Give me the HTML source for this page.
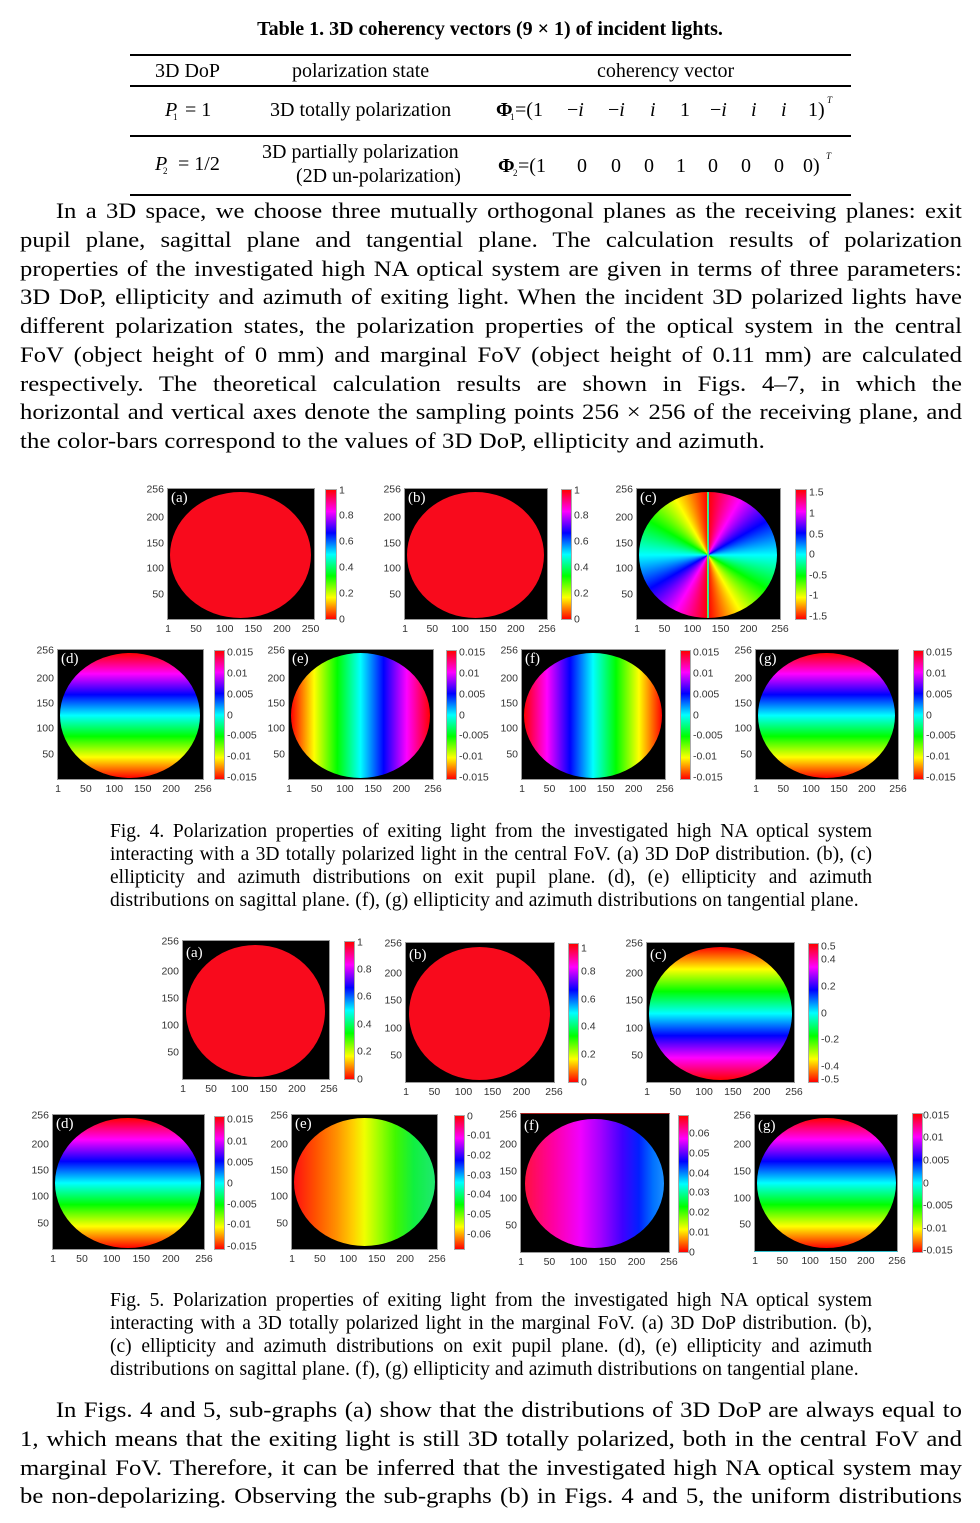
<!DOCTYPE html>
<html><head><meta charset="utf-8">
<style>
*{margin:0;padding:0;box-sizing:border-box}
html,body{width:980px;height:1523px;overflow:hidden;background:#fff}
body{position:relative;font-family:"Liberation Serif","Times New Roman",serif;color:#000}
.a{position:absolute;white-space:nowrap;line-height:1;font-size:20px}
.s{position:absolute;white-space:nowrap;line-height:1;font-size:9px}
.rule{position:absolute;left:130px;width:721px;height:2px;background:#000}
.pg{position:absolute;left:20px;width:841px;transform:scaleX(1.12);transform-origin:0 0;font-size:22px;line-height:28.75px}
.pg div{height:28.75px;text-align:justify;text-align-last:justify}
.pg div.l{text-align-last:left;letter-spacing:0.15px}
.pg div.i{text-indent:32px}
.cp{position:absolute;left:110px;width:762px;font-size:19.5px;line-height:23px}
.cp div{height:23px;text-align:justify;text-align-last:justify}
.cp div.l{text-align-last:left;letter-spacing:0.16px}
.pl{position:absolute;background:#000;border:1px solid #9a9a9a}
.el{position:absolute;left:2px;top:3px;right:3px;bottom:1px;border-radius:50%;overflow:hidden}
.lb{position:absolute;left:3px;top:2px;color:#fff;font:15px "Liberation Serif",serif;line-height:1;white-space:nowrap}
.yl,.xl,.cl{position:absolute;font:10.5px "Liberation Sans",Arial,sans-serif;color:#333;line-height:1;white-space:nowrap}
.yl{right:calc(100% + 4px);transform:translateY(50%)}
.xl{top:calc(100% + 5px);transform:translateX(-50%)}
.cl{left:calc(100% + 3px);transform:translateY(50%)}
.cb{position:absolute;border:1px solid #aaa;background:linear-gradient(to top,#f00 0%,#ff0 16.67%,#0f0 33.33%,#0ff 50%,#00f 66.67%,#f0f 83.33%,#f00 100%)}
.red{background:#f80a1c}
.up{background:linear-gradient(to top,#f00 0%,#ff0 16.67%,#0f0 33.33%,#0ff 50%,#00f 66.67%,#f0f 83.33%,#f00 100%)}
.dn{background:linear-gradient(to bottom,#f00 0%,#ff0 16.67%,#0f0 33.33%,#0ff 50%,#00f 66.67%,#f0f 83.33%,#f00 100%)}
.rt{background:linear-gradient(to right,#f00 0%,#ff0 16.67%,#0f0 33.33%,#0ff 50%,#00f 66.67%,#f0f 83.33%,#f00 100%)}
.lf{background:linear-gradient(to left,#f00 0%,#ff0 16.67%,#0f0 33.33%,#0ff 50%,#00f 66.67%,#f0f 83.33%,#f00 100%)}
.cn{background:conic-gradient(from 0deg,#f00 0deg,#f0f 30deg,#00f 60deg,#0ff 90deg,#0f0 120deg,#ff0 150deg,#f00 180deg,#f0f 210deg,#00f 240deg,#0ff 270deg,#0f0 300deg,#ff0 330deg,#f00 360deg)}
</style></head><body>

<!-- TABLE -->
<div class="a" style="left:0;width:980px;text-align:center;top:19px;font-weight:bold">Table 1. 3D coherency vectors (9 × 1) of incident lights.</div>
<div class="rule" style="top:54px"></div>
<div class="a" style="left:155px;top:61px">3D DoP</div>
<div class="a" style="left:292px;top:61px">polarization state</div>
<div class="a" style="left:597px;top:61px">coherency vector</div>
<div class="rule" style="top:85px"></div>

<div class="a" style="left:165px;top:100px"><i>P</i></div>
<div class="s" style="left:173px;top:113px">1</div>
<div class="a" style="left:185px;top:100px">= 1</div>
<div class="a" style="left:270px;top:100px">3D totally polarization</div>
<div class="a" style="left:496px;top:100px;font-weight:bold">Φ</div>
<div class="s" style="left:510px;top:113px">1</div>
<div class="a" style="left:515px;top:100px">=(1</div>
<div class="a" style="left:567px;top:100px">−<i>i</i></div>
<div class="a" style="left:608px;top:100px">−<i>i</i></div>
<div class="a" style="left:650px;top:100px"><i>i</i></div>
<div class="a" style="left:680px;top:100px">1</div>
<div class="a" style="left:710px;top:100px">−<i>i</i></div>
<div class="a" style="left:751px;top:100px"><i>i</i></div>
<div class="a" style="left:781px;top:100px"><i>i</i></div>
<div class="a" style="left:808px;top:100px">1)</div>
<div class="s" style="left:827px;top:96px"><i>T</i></div>
<div class="rule" style="top:135px"></div>

<div class="a" style="left:155px;top:154px"><i>P</i></div>
<div class="s" style="left:163px;top:167px">2</div>
<div class="a" style="left:178px;top:154px">= 1/2</div>
<div class="a" style="left:262px;top:142px">3D partially polarization</div>
<div class="a" style="left:296px;top:166px">(2D un-polarization)</div>
<div class="a" style="left:498px;top:156px;font-weight:bold">Φ</div>
<div class="s" style="left:513px;top:169px">2</div>
<div class="a" style="left:518px;top:156px">=(1</div>
<div class="a" style="left:577px;top:156px">0</div>
<div class="a" style="left:611px;top:156px">0</div>
<div class="a" style="left:644px;top:156px">0</div>
<div class="a" style="left:676px;top:156px">1</div>
<div class="a" style="left:708px;top:156px">0</div>
<div class="a" style="left:741px;top:156px">0</div>
<div class="a" style="left:774px;top:156px">0</div>
<div class="a" style="left:803px;top:156px">0)</div>
<div class="s" style="left:826px;top:152px"><i>T</i></div>
<div class="rule" style="top:194px"></div>

<!-- PARAGRAPH 1 -->
<div class="pg" style="top:197px">
<div class="i">In a 3D space, we choose three mutually orthogonal planes as the receiving planes: exit</div>
<div>pupil plane, sagittal plane and tangential plane. The calculation results of polarization</div>
<div>properties of the investigated high NA optical system are given in terms of three parameters:</div>
<div>3D DoP, ellipticity and azimuth of exiting light. When the incident 3D polarized lights have</div>
<div>different polarization states, the polarization properties of the optical system in the central</div>
<div>FoV (object height of 0 mm) and marginal FoV (object height of 0.11 mm) are calculated</div>
<div>respectively. The theoretical calculation results are shown in Figs. 4–7, in which the</div>
<div>horizontal and vertical axes denote the sampling points 256 × 256 of the receiving plane, and</div>
<div class="l">the color-bars correspond to the values of 3D DoP, ellipticity and azimuth.</div>
</div>

<!-- FIG 4 -->
<div class="pl" style="left:167px;top:488px;width:148px;height:132px">
<div class="el red"></div><div class="lb">(a)</div>
<div class="yl" style="bottom:100%">256</div><div class="yl" style="bottom:78.04%">200</div><div class="yl" style="bottom:58.43%">150</div><div class="yl" style="bottom:38.82%">100</div><div class="yl" style="bottom:19.22%">50</div>
<div class="xl" style="left:0%">1</div><div class="xl" style="left:19.22%">50</div><div class="xl" style="left:38.82%">100</div><div class="xl" style="left:58.43%">150</div><div class="xl" style="left:78.04%">200</div><div class="xl" style="left:97.65%">250</div>
</div>
<div class="cb" style="left:325px;top:489px;width:12px;height:131px">
<div class="cl" style="bottom:100%">1</div><div class="cl" style="bottom:80%">0.8</div><div class="cl" style="bottom:60%">0.6</div><div class="cl" style="bottom:40%">0.4</div><div class="cl" style="bottom:20%">0.2</div><div class="cl" style="bottom:0%">0</div>
</div>

<div class="pl" style="left:404px;top:488px;width:144px;height:132px">
<div class="el red"></div><div class="lb">(b)</div>
<div class="yl" style="bottom:100%">256</div><div class="yl" style="bottom:78.04%">200</div><div class="yl" style="bottom:58.43%">150</div><div class="yl" style="bottom:38.82%">100</div><div class="yl" style="bottom:19.22%">50</div>
<div class="xl" style="left:0%">1</div><div class="xl" style="left:19.22%">50</div><div class="xl" style="left:38.82%">100</div><div class="xl" style="left:58.43%">150</div><div class="xl" style="left:78.04%">200</div><div class="xl" style="left:100%">256</div>
</div>
<div class="cb" style="left:561px;top:489px;width:11px;height:131px">
<div class="cl" style="bottom:100%">1</div><div class="cl" style="bottom:80%">0.8</div><div class="cl" style="bottom:60%">0.6</div><div class="cl" style="bottom:40%">0.4</div><div class="cl" style="bottom:20%">0.2</div><div class="cl" style="bottom:0%">0</div>
</div>

<div class="pl" style="left:636px;top:488px;width:145px;height:132px">
<div class="el cn"><div style="position:absolute;left:calc(50% - 1px);top:0;width:2px;height:100%;background:linear-gradient(to right,#8f0,#0cf)"></div></div><div class="lb">(c)</div>
<div class="yl" style="bottom:100%">256</div><div class="yl" style="bottom:78.04%">200</div><div class="yl" style="bottom:58.43%">150</div><div class="yl" style="bottom:38.82%">100</div><div class="yl" style="bottom:19.22%">50</div>
<div class="xl" style="left:0%">1</div><div class="xl" style="left:19.22%">50</div><div class="xl" style="left:38.82%">100</div><div class="xl" style="left:58.43%">150</div><div class="xl" style="left:78.04%">200</div><div class="xl" style="left:100%">256</div>
</div>
<div class="cb" style="left:795px;top:489px;width:12px;height:131px">
<div class="cl" style="bottom:97.7%">1.5</div><div class="cl" style="bottom:81.8%">1</div><div class="cl" style="bottom:65.9%">0.5</div><div class="cl" style="bottom:50%">0</div><div class="cl" style="bottom:34.1%">-0.5</div><div class="cl" style="bottom:18.2%">-1</div><div class="cl" style="bottom:2.3%">-1.5</div>
</div>

<div class="pl" style="left:57px;top:649px;width:147px;height:131px">
<div class="el up"></div><div class="lb">(d)</div>
<div class="yl" style="bottom:100%">256</div><div class="yl" style="bottom:78.04%">200</div><div class="yl" style="bottom:58.43%">150</div><div class="yl" style="bottom:38.82%">100</div><div class="yl" style="bottom:19.22%">50</div>
<div class="xl" style="left:0%">1</div><div class="xl" style="left:19.22%">50</div><div class="xl" style="left:38.82%">100</div><div class="xl" style="left:58.43%">150</div><div class="xl" style="left:78.04%">200</div><div class="xl" style="left:100%">256</div>
</div>
<div class="cb" style="left:214px;top:650px;width:11px;height:130px">
<div class="cl" style="bottom:99%">0.015</div><div class="cl" style="bottom:82.7%">0.01</div><div class="cl" style="bottom:66.3%">0.005</div><div class="cl" style="bottom:50%">0</div><div class="cl" style="bottom:33.7%">-0.005</div><div class="cl" style="bottom:17.3%">-0.01</div><div class="cl" style="bottom:1%">-0.015</div>
</div>

<div class="pl" style="left:288px;top:649px;width:146px;height:131px">
<div class="el rt"></div><div class="lb">(e)</div>
<div class="yl" style="bottom:100%">256</div><div class="yl" style="bottom:78.04%">200</div><div class="yl" style="bottom:58.43%">150</div><div class="yl" style="bottom:38.82%">100</div><div class="yl" style="bottom:19.22%">50</div>
<div class="xl" style="left:0%">1</div><div class="xl" style="left:19.22%">50</div><div class="xl" style="left:38.82%">100</div><div class="xl" style="left:58.43%">150</div><div class="xl" style="left:78.04%">200</div><div class="xl" style="left:100%">256</div>
</div>
<div class="cb" style="left:446px;top:650px;width:11px;height:130px">
<div class="cl" style="bottom:99%">0.015</div><div class="cl" style="bottom:82.7%">0.01</div><div class="cl" style="bottom:66.3%">0.005</div><div class="cl" style="bottom:50%">0</div><div class="cl" style="bottom:33.7%">-0.005</div><div class="cl" style="bottom:17.3%">-0.01</div><div class="cl" style="bottom:1%">-0.015</div>
</div>

<div class="pl" style="left:521px;top:649px;width:145px;height:131px">
<div class="el lf"></div><div class="lb">(f)</div>
<div class="yl" style="bottom:100%">256</div><div class="yl" style="bottom:78.04%">200</div><div class="yl" style="bottom:58.43%">150</div><div class="yl" style="bottom:38.82%">100</div><div class="yl" style="bottom:19.22%">50</div>
<div class="xl" style="left:0%">1</div><div class="xl" style="left:19.22%">50</div><div class="xl" style="left:38.82%">100</div><div class="xl" style="left:58.43%">150</div><div class="xl" style="left:78.04%">200</div><div class="xl" style="left:100%">256</div>
</div>
<div class="cb" style="left:680px;top:650px;width:11px;height:130px">
<div class="cl" style="bottom:99%">0.015</div><div class="cl" style="bottom:82.7%">0.01</div><div class="cl" style="bottom:66.3%">0.005</div><div class="cl" style="bottom:50%">0</div><div class="cl" style="bottom:33.7%">-0.005</div><div class="cl" style="bottom:17.3%">-0.01</div><div class="cl" style="bottom:1%">-0.015</div>
</div>

<div class="pl" style="left:755px;top:649px;width:144px;height:131px">
<div class="el up"></div><div class="lb">(g)</div>
<div class="yl" style="bottom:100%">256</div><div class="yl" style="bottom:78.04%">200</div><div class="yl" style="bottom:58.43%">150</div><div class="yl" style="bottom:38.82%">100</div><div class="yl" style="bottom:19.22%">50</div>
<div class="xl" style="left:0%">1</div><div class="xl" style="left:19.22%">50</div><div class="xl" style="left:38.82%">100</div><div class="xl" style="left:58.43%">150</div><div class="xl" style="left:78.04%">200</div><div class="xl" style="left:100%">256</div>
</div>
<div class="cb" style="left:913px;top:650px;width:11px;height:130px">
<div class="cl" style="bottom:99%">0.015</div><div class="cl" style="bottom:82.7%">0.01</div><div class="cl" style="bottom:66.3%">0.005</div><div class="cl" style="bottom:50%">0</div><div class="cl" style="bottom:33.7%">-0.005</div><div class="cl" style="bottom:17.3%">-0.01</div><div class="cl" style="bottom:1%">-0.015</div>
</div>

<div class="cp" style="top:820px">
<div>Fig. 4. Polarization properties of exiting light from the investigated high NA optical system</div>
<div>interacting with a 3D totally polarized light in the central FoV. (a) 3D DoP distribution. (b), (c)</div>
<div>ellipticity and azimuth distributions on exit pupil plane. (d), (e) ellipticity and azimuth</div>
<div class="l">distributions on sagittal plane. (f), (g) ellipticity and azimuth distributions on tangential plane.</div>
</div>

<!-- FIG 5 -->
<div class="pl" style="left:182px;top:940px;width:148px;height:140px">
<div class="el red" style="left:3px;top:4px;right:4px;bottom:2px"></div><div class="lb" style="top:5px">(a)</div>
<div class="yl" style="bottom:100%">256</div><div class="yl" style="bottom:78.04%">200</div><div class="yl" style="bottom:58.43%">150</div><div class="yl" style="bottom:38.82%">100</div><div class="yl" style="bottom:19.22%">50</div>
<div class="xl" style="left:0%">1</div><div class="xl" style="left:19.22%">50</div><div class="xl" style="left:38.82%">100</div><div class="xl" style="left:58.43%">150</div><div class="xl" style="left:78.04%">200</div><div class="xl" style="left:100%">256</div>
</div>
<div class="cb" style="left:344px;top:941px;width:11px;height:139px">
<div class="cl" style="bottom:100%">1</div><div class="cl" style="bottom:80%">0.8</div><div class="cl" style="bottom:60%">0.6</div><div class="cl" style="bottom:40%">0.4</div><div class="cl" style="bottom:20%">0.2</div><div class="cl" style="bottom:0%">0</div>
</div>

<div class="pl" style="left:405px;top:942px;width:150px;height:141px">
<div class="el red" style="left:3px;top:4px;right:4px;bottom:2px"></div><div class="lb" style="top:5px">(b)</div>
<div class="yl" style="bottom:100%">256</div><div class="yl" style="bottom:78.04%">200</div><div class="yl" style="bottom:58.43%">150</div><div class="yl" style="bottom:38.82%">100</div><div class="yl" style="bottom:19.22%">50</div>
<div class="xl" style="left:0%">1</div><div class="xl" style="left:19.22%">50</div><div class="xl" style="left:38.82%">100</div><div class="xl" style="left:58.43%">150</div><div class="xl" style="left:78.04%">200</div><div class="xl" style="left:100%">256</div>
</div>
<div class="cb" style="left:568px;top:943px;width:11px;height:140px">
<div class="cl" style="bottom:97%">1</div><div class="cl" style="bottom:80%">0.8</div><div class="cl" style="bottom:60%">0.6</div><div class="cl" style="bottom:40%">0.4</div><div class="cl" style="bottom:20%">0.2</div><div class="cl" style="bottom:0%">0</div>
</div>

<div class="pl" style="left:646px;top:942px;width:149px;height:141px">
<div class="el dn" style="left:2px;top:4px;right:2px;bottom:2px"></div><div class="lb" style="top:5px">(c)</div>
<div class="yl" style="bottom:100%">256</div><div class="yl" style="bottom:78.04%">200</div><div class="yl" style="bottom:58.43%">150</div><div class="yl" style="bottom:38.82%">100</div><div class="yl" style="bottom:19.22%">50</div>
<div class="xl" style="left:0%">1</div><div class="xl" style="left:19.22%">50</div><div class="xl" style="left:38.82%">100</div><div class="xl" style="left:58.43%">150</div><div class="xl" style="left:78.04%">200</div><div class="xl" style="left:100%">256</div>
</div>
<div class="cb" style="left:808px;top:943px;width:11px;height:140px">
<div class="cl" style="bottom:98%">0.5</div><div class="cl" style="bottom:88.5%">0.4</div><div class="cl" style="bottom:69.2%">0.2</div><div class="cl" style="bottom:50%">0</div><div class="cl" style="bottom:30.8%">-0.2</div><div class="cl" style="bottom:11.5%">-0.4</div><div class="cl" style="bottom:2%">-0.5</div>
</div>

<div class="pl" style="left:52px;top:1114px;width:153px;height:136px">
<div class="el up"></div><div class="lb">(d)</div>
<div class="yl" style="bottom:100%">256</div><div class="yl" style="bottom:78.04%">200</div><div class="yl" style="bottom:58.43%">150</div><div class="yl" style="bottom:38.82%">100</div><div class="yl" style="bottom:19.22%">50</div>
<div class="xl" style="left:0%">1</div><div class="xl" style="left:19.22%">50</div><div class="xl" style="left:38.82%">100</div><div class="xl" style="left:58.43%">150</div><div class="xl" style="left:78.04%">200</div><div class="xl" style="left:100%">256</div>
</div>
<div class="cb" style="left:214px;top:1116px;width:11px;height:134px">
<div class="cl" style="bottom:97.8%">0.015</div><div class="cl" style="bottom:81.8%">0.01</div><div class="cl" style="bottom:65.9%">0.005</div><div class="cl" style="bottom:50%">0</div><div class="cl" style="bottom:34.1%">-0.005</div><div class="cl" style="bottom:18.2%">-0.01</div><div class="cl" style="bottom:2.2%">-0.015</div>
</div>

<div class="pl" style="left:291px;top:1114px;width:147px;height:136px">
<div class="el" style="left:2px;top:3px;right:2px;bottom:3px;background:linear-gradient(to right,#ff1010 0%,#ff5000 15%,#ff9000 30%,#ffd000 42%,#f0ff00 50%,#a0ff00 60%,#40f800 72%,#10f040 85%,#20e870 100%)"></div><div class="lb">(e)</div>
<div class="yl" style="bottom:100%">256</div><div class="yl" style="bottom:78.04%">200</div><div class="yl" style="bottom:58.43%">150</div><div class="yl" style="bottom:38.82%">100</div><div class="yl" style="bottom:19.22%">50</div>
<div class="xl" style="left:0%">1</div><div class="xl" style="left:19.22%">50</div><div class="xl" style="left:38.82%">100</div><div class="xl" style="left:58.43%">150</div><div class="xl" style="left:78.04%">200</div><div class="xl" style="left:100%">256</div>
</div>
<div class="cb" style="left:454px;top:1115px;width:11px;height:135px">
<div class="cl" style="bottom:99.3%">0</div><div class="cl" style="bottom:85.2%">-0.01</div><div class="cl" style="bottom:70.4%">-0.02</div><div class="cl" style="bottom:55.6%">-0.03</div><div class="cl" style="bottom:40.7%">-0.04</div><div class="cl" style="bottom:25.9%">-0.05</div><div class="cl" style="bottom:11.1%">-0.06</div>
</div>

<div class="pl" style="left:520px;top:1113px;width:150px;height:140px;border-top-color:#b02020">
<div class="el" style="left:4px;top:5px;right:5px;bottom:4px;background:linear-gradient(to right,#ff1040 0%,#ff00a0 20%,#f000ff 40%,#a000ff 55%,#4000ff 70%,#0020ff 82%,#0070ff 92%,#1a90ff 100%)"></div><div class="lb" style="top:5px">(f)</div>
<div class="yl" style="bottom:100%">256</div><div class="yl" style="bottom:78.04%">200</div><div class="yl" style="bottom:58.43%">150</div><div class="yl" style="bottom:38.82%">100</div><div class="yl" style="bottom:19.22%">50</div>
<div class="xl" style="left:0%">1</div><div class="xl" style="left:19.22%">50</div><div class="xl" style="left:38.82%">100</div><div class="xl" style="left:58.43%">150</div><div class="xl" style="left:78.04%">200</div><div class="xl" style="left:100%">256</div>
</div>
<div class="cb" style="left:678px;top:1115px;width:11px;height:138px">
<div class="cl" style="bottom:87%;left:calc(100% + 1px)">0.06</div><div class="cl" style="bottom:72.5%;left:calc(100% + 1px)">0.05</div><div class="cl" style="bottom:58%;left:calc(100% + 1px)">0.04</div><div class="cl" style="bottom:43.5%;left:calc(100% + 1px)">0.03</div><div class="cl" style="bottom:29%;left:calc(100% + 1px)">0.02</div><div class="cl" style="bottom:14.5%;left:calc(100% + 1px)">0.01</div><div class="cl" style="bottom:0%;left:calc(100% + 1px)">0</div>
</div>

<div class="pl" style="left:754px;top:1114px;width:144px;height:138px;border-bottom-color:#30c0d0">
<div class="el up" style="left:2px;top:3px;right:1px;bottom:3px"></div><div class="lb" style="top:4px">(g)</div>
<div class="yl" style="bottom:100%">256</div><div class="yl" style="bottom:78.04%">200</div><div class="yl" style="bottom:58.43%">150</div><div class="yl" style="bottom:38.82%">100</div><div class="yl" style="bottom:19.22%">50</div>
<div class="xl" style="left:0%">1</div><div class="xl" style="left:19.22%">50</div><div class="xl" style="left:38.82%">100</div><div class="xl" style="left:58.43%">150</div><div class="xl" style="left:78.04%">200</div><div class="xl" style="left:100%">256</div>
</div>
<div class="cb" style="left:912px;top:1113px;width:11px;height:140px">
<div class="cl" style="bottom:99%;left:calc(100% + 1px)">0.015</div><div class="cl" style="bottom:82.7%;left:calc(100% + 1px)">0.01</div><div class="cl" style="bottom:66.3%;left:calc(100% + 1px)">0.005</div><div class="cl" style="bottom:50%;left:calc(100% + 1px)">0</div><div class="cl" style="bottom:33.7%;left:calc(100% + 1px)">-0.005</div><div class="cl" style="bottom:17.3%;left:calc(100% + 1px)">-0.01</div><div class="cl" style="bottom:1%;left:calc(100% + 1px)">-0.015</div>
</div>

<div class="cp" style="top:1289px">
<div>Fig. 5. Polarization properties of exiting light from the investigated high NA optical system</div>
<div>interacting with a 3D totally polarized light in the marginal FoV. (a) 3D DoP distribution. (b),</div>
<div>(c) ellipticity and azimuth distributions on exit pupil plane. (d), (e) ellipticity and azimuth</div>
<div class="l">distributions on sagittal plane. (f), (g) ellipticity and azimuth distributions on tangential plane.</div>
</div>

<!-- PARAGRAPH 2 -->
<div class="pg" style="top:1396px">
<div class="i">In Figs. 4 and 5, sub-graphs (a) show that the distributions of 3D DoP are always equal to</div>
<div>1, which means that the exiting light is still 3D totally polarized, both in the central FoV and</div>
<div>marginal FoV. Therefore, it can be inferred that the investigated high NA optical system may</div>
<div>be non-depolarizing. Observing the sub-graphs (b) in Figs. 4 and 5, the uniform distributions</div>
</div>

</body></html>
